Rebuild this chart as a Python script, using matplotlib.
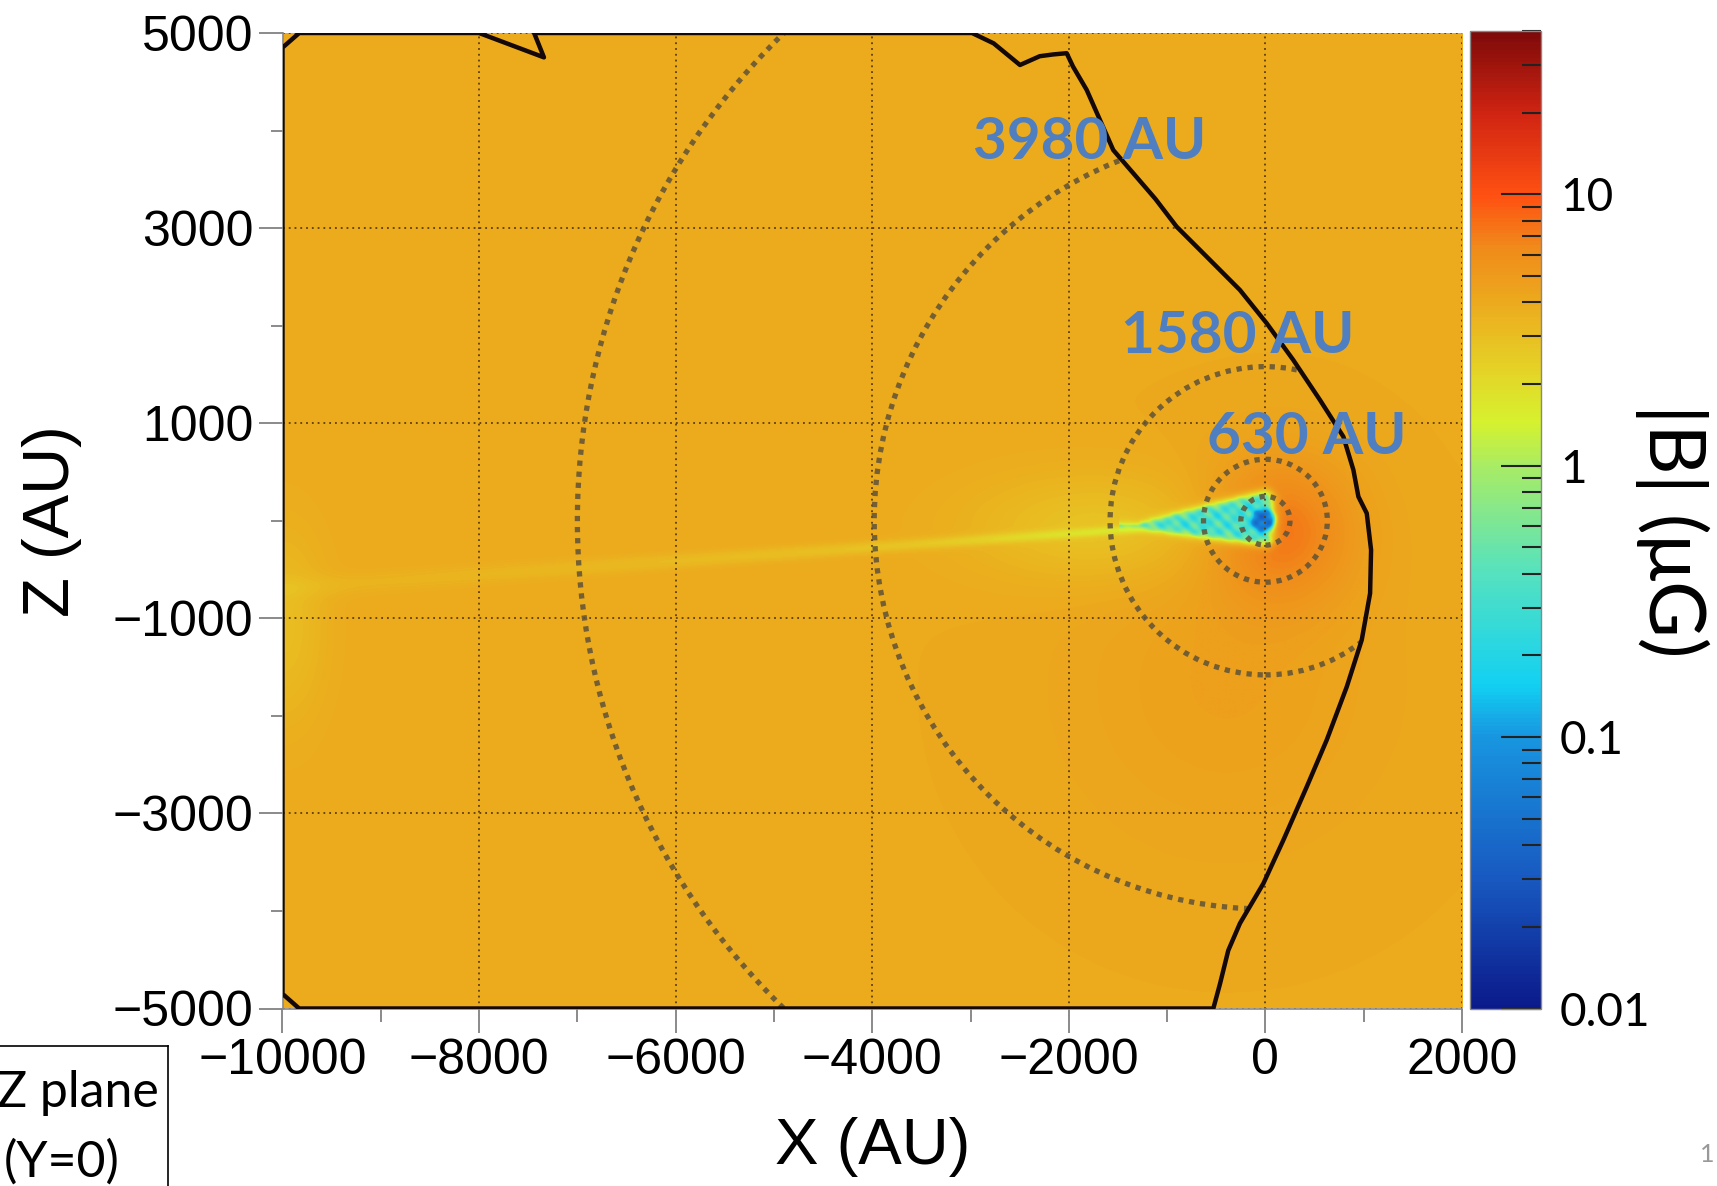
import numpy as np
import matplotlib
matplotlib.use('Agg')
import matplotlib.pyplot as plt
from matplotlib.colors import LinearSegmentedColormap, LogNorm
from matplotlib.patches import Polygon, Circle
from matplotlib.lines import Line2D
from matplotlib.ticker import MultipleLocator, LogLocator, NullFormatter

plt.rcParams['font.family'] = ['Liberation Sans', 'DejaVu Sans']

# --- axes ranges and ticks ---
x_range = [-10000, 2000]
z_range = [-5000, 5000]
x_ticks = [-10000, -8000, -6000, -4000, -2000, 0, 2000]
z_ticks = [-5000, -3000, -1000, 1000, 3000, 5000]
b_range = [0.01, 40]
b_ticks = [0.01, 0.1, 1, 10]
b_tick_labels = ['0.01', '0.1', '1', '10']

# --- dotted spheres (AU) and their labels ---
circle_radii = [250, 630, 1580, 3980, 7000]
radius_labels = ['3980 AU', '1580 AU', '630 AU']
label_x = [-1790, -280, 420]
label_z = [3880, 1890, 850]

# --- black boundary (AU) ---
boundary_x = [-10000, -9830, -8000, -7340, -7440, -2985, -2765, -2497, -2296, -2161,
              -2022, -1957, -1818, -1683, -1548, -1344, -1120, -903, -564, -259,
              13, 284, 555, 793, 895, 946, 1031, 1075, 1065, 980,
              828, 624, 421, 183, -20, -259, -378, -462, -530, -9830, -10000]
boundary_z = [4850, 5000, 5000, 4750, 5000, 5000, 4894, 4672, 4762, 4780,
              4793, 4655, 4416, 4108, 3800, 3562, 3300, 3014, 2673, 2365,
              2024, 1647, 1238, 862, 521, 247, 76, -300, -744, -1222,
              -1701, -2247, -2726, -3273, -3717, -4127, -4405, -4747, -5000, -5000, -4850]

# --- field features, |B| in uG ---
b_background = 4.0
glow_center = [150, -100]      # orange glow round the star
glow_sigma = 520
lower_center = [-400, -1700]   # faint orange patch below
lower_sigma = 1100
tail_slope = 0.07              # yellow tail to the left
cone_length = 1300             # cyan cone behind the star
cone_halfwidth = 250
b_cone = 0.33
b_halo = 1.6
core_radius = 115
b_core = 0.05

# colour scale (jet-like, as in the figure)
cmap = LinearSegmentedColormap.from_list('bfield', [
    (0.0, '#0B1A8A'), (0.13, '#1858C0'), (0.278, '#1896E0'), (0.33, '#12D0F2'),
    (0.445, '#55E2C0'), (0.555, '#A8EC64'), (0.60, '#D6F22E'), (0.66, '#E6CF26'),
    (0.72, '#ECAC1E'), (0.78, '#F08A1A'), (0.833, '#FF5012'), (0.917, '#D02412'),
    (1.0, '#7E0A0A')], N=256)

# --- build field ---
xs = np.linspace(x_range[0], x_range[1], 1201)
zs = np.linspace(z_range[0], z_range[1], 1001)
X, Z = np.meshgrid(xs, zs)
L = np.full(X.shape, np.log10(b_background))
L += 0.26 * np.exp(-((X - glow_center[0])**2 + (Z - glow_center[1])**2) / (2 * glow_sigma**2))
L += 0.06 * np.exp(-((X - lower_center[0])**2 + (Z - lower_center[1])**2) / (2 * lower_sigma**2))
L -= 0.16 * np.exp(-((X + 1700)**2 / (2 * 900**2) + (Z + 80)**2 / (2 * 380**2)))
w = 22 + 0.006 * np.abs(X)
tail = np.exp(-(Z - tail_slope * X)**2 / (2 * w**2)) * np.exp(np.minimum(X, 0) / 5500)
L -= 0.30 * np.where(X < 0, tail, 0)
L -= 0.12 * np.exp(-(X + 10000)**2 / (2 * 300**2) - (Z + 1100)**2 / (2 * 700**2))

t = np.clip((X + cone_length) / cone_length, 0, 1)
in_x = 1 / (1 + np.exp((X - 40) / 30)) * (X > -cone_length - 200)
zc = -60 + 80 * t
hw_halo = (cone_halfwidth + 40) * t**0.8
halo = 1 / (1 + np.exp(-(hw_halo - np.abs(Z - zc)) / 25)) * in_x
L = L * (1 - halo) + np.log10(b_halo) * halo
hw = cone_halfwidth * t**0.85
cone = 1 / (1 + np.exp(-(hw - np.abs(Z - zc)) / 18)) * in_x
cone_val = (np.log10(b_cone) + 0.18 * np.sin(X / 35) * np.sin(Z / 30)
            + 0.12 * np.sin((X + Z) / 22))
L = L * (1 - cone) + cone_val * cone
r = np.hypot(X + 30, Z)
core = 1 / (1 + np.exp((r - core_radius) / 15))
L = L * (1 - core) + (np.log10(b_core) + 0.18 * np.sin(X / 25) * np.sin(Z / 22)) * core
B = 10**L

# --- figure ---
W, H = 1717, 1186
fig = plt.figure(figsize=(W / 100, H / 100), dpi=100)
ax = fig.add_axes([282.5 / W, 1 - 1008.5 / H, (1462 - 282.5) / W, (1008.5 - 33) / H])
cax = fig.add_axes([1469.5 / W, 1 - 1008.5 / H, 71 / W, (1008.5 - 31) / H])

norm = LogNorm(vmin=b_range[0], vmax=b_range[1])
im = ax.imshow(B, extent=[x_range[0], x_range[1], z_range[0], z_range[1]], origin='lower',
               cmap=cmap, norm=norm, aspect='auto', interpolation='bilinear', zorder=0)
ax.set_xlim(x_range)
ax.set_ylim(z_range)

ax.set_xticks(x_ticks)
ax.set_yticks(z_ticks)
ax.xaxis.set_minor_locator(MultipleLocator(1000))
ax.yaxis.set_minor_locator(MultipleLocator(1000))
ax.grid(True, which='major', color='#5C3D0A', lw=1.3, ls=(0, (1, 2.2)))
ax.tick_params(which='major', direction='out', length=17, width=1.2, color='#777777',
               labelsize=36, pad=4)
ax.tick_params(which='minor', direction='out', length=9, width=1.2, color='#777777')
for s in ['top', 'right']:
    ax.spines[s].set_visible(False)
for s in ['left', 'bottom']:
    ax.spines[s].set_color('#888888')
    ax.spines[s].set_linewidth(1.2)

# boundary and clipped circles
bpoly = Polygon(np.column_stack([boundary_x, boundary_z]), closed=True, fill=False,
                edgecolor='#140808', lw=3.2, joinstyle='round', zorder=4)
ax.add_patch(bpoly)
for rad in circle_radii:
    c = Circle((0, 0), rad, fill=False, edgecolor='#5E5238', lw=3.8,
               ls=(0, (1, 1.1)), alpha=0.85, zorder=3)
    ax.add_patch(c)
    c.set_clip_path(bpoly)

for txt, lx, lz in zip(radius_labels, label_x, label_z):
    ax.text(lx, lz, txt, color='#4F7FC0', fontsize=42, fontweight='bold',
            family=['Lato', 'DejaVu Sans'], ha='center', va='center', zorder=6, clip_on=False)

ax.set_xlabel('X (AU)', fontsize=47, labelpad=24)
ax.set_ylabel('Z (AU)', fontsize=47, labelpad=22)

# colorbar
cb = fig.colorbar(im, cax=cax)
cb.set_ticks(b_ticks, labels=b_tick_labels)
cax.yaxis.set_minor_locator(LogLocator(base=10, subs=range(2, 10)))
cax.yaxis.set_minor_formatter(NullFormatter())
cax.tick_params(which='major', direction='in', length=29, width=1.5, color='#222222',
                labelsize=33, pad=14)
cax.tick_params(which='minor', direction='in', length=14, width=1.5, color='#222222')
for lab in cax.get_yticklabels():
    lab.set_family(['Lato', 'DejaVu Sans'])
cb.outline.set_edgecolor('#888888')
cb.outline.set_linewidth(1.0)

fig.text(1672 / W, 1 - 531 / H, '|B| (μG)', rotation=270, fontsize=56,
         family=['Lato', 'DejaVu Sans'], ha='center', va='center')

# plane box at bottom left
fig.add_artist(Line2D([0, 167.5 / W], [1 - 1046 / H] * 2, color='black', lw=1.2))
fig.add_artist(Line2D([167.5 / W] * 2, [1 - 1046 / H, 0], color='black', lw=1.2))
fig.text(159 / W, 1 - 1093 / H, 'Z plane', fontsize=36, family=['Lato', 'DejaVu Sans'],
         ha='right', va='center')
fig.text(62 / W, 1 - 1162 / H, '(Y=0)', fontsize=36, family=['Lato', 'DejaVu Sans'],
         ha='center', va='center')
fig.text(1700 / W, 1 - 1155 / H, '1', fontsize=18, color='#999999',
         family=['Lato', 'DejaVu Sans'], ha='left', va='center')

fig.savefig('out.png', dpi=100)
